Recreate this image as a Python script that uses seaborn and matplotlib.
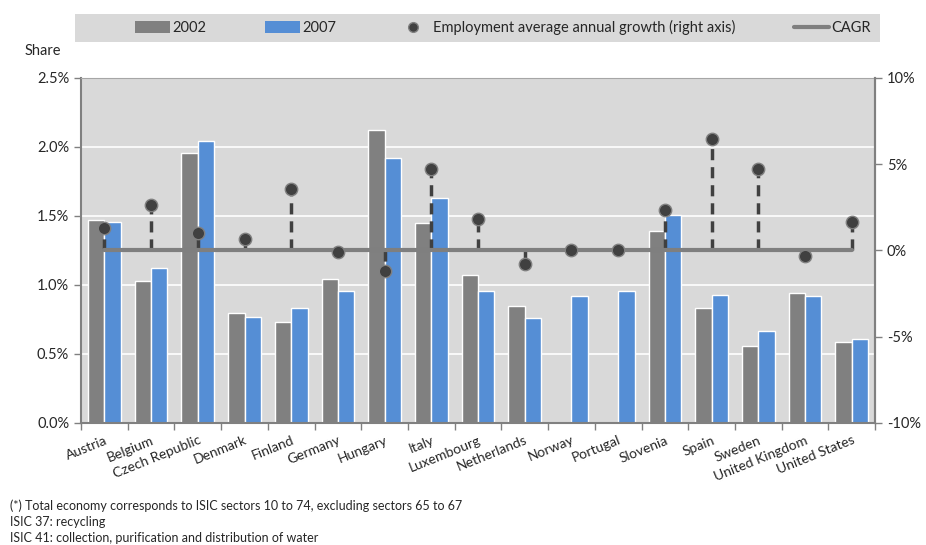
import numpy as np
import pandas as pd
import matplotlib
matplotlib.use("Agg")
import matplotlib.pyplot as plt
import seaborn as sns
from matplotlib.lines import Line2D
from matplotlib.patches import Patch, Rectangle
from matplotlib.ticker import FuncFormatter, MultipleLocator

countries = ["Austria", "Belgium", "Czech Republic", "Denmark", "Finland", "Germany",
             "Hungary", "Italy", "Luxembourg", "Netherlands", "Norway", "Portugal",
             "Slovenia", "Spain", "Sweden", "United Kingdom", "United States"]
share_2002 = [1.47, 1.03, 1.96, 0.80, 0.73, 1.04, 2.12, 1.45, 1.07, 0.85, np.nan, np.nan,
              1.39, 0.83, 0.56, 0.94, 0.59]
share_2007 = [1.46, 1.12, 2.04, 0.77, 0.83, 0.96, 1.92, 1.63, 0.96, 0.76, 0.92, 0.96,
              1.51, 0.93, 0.67, 0.92, 0.61]
growth = [1.3, 2.65, 1.0, 0.67, 3.55, -0.1, -1.2, 4.7, 1.85, -0.8, 0.0, 0.0,
          2.35, 6.45, 4.7, -0.3, 1.65]
cagr = [0.0] * len(countries)
footnotes = ["(*) Total economy corresponds to ISIC sectors 10 to 74, excluding sectors 65 to 67",
             "ISIC 37: recycling",
             "ISIC 41: collection, purification and distribution of water"]

sns.set_theme(style="white")
plt.rcParams['font.family'] = ['Lato', 'DejaVu Sans']

C02 = "#808080"
C07 = "#558ED5"
BG = "#D9D9D9"

df = pd.DataFrame({
    "country": countries * 2,
    "year": ["2002"] * len(countries) + ["2007"] * len(countries),
    "share": share_2002 + share_2007,
})

fig = plt.figure(figsize=(9.26, 5.45), dpi=100)
ax = fig.add_axes([0.0875, 0.2239, 0.8575, 0.633])
ax.set_facecolor(BG)

sns.barplot(data=df, x="country", y="share", hue="year", order=countries,
            hue_order=["2002", "2007"], palette=[C02, C07], width=0.7,
            saturation=1, ax=ax, legend=False, zorder=2)
ax.set_xlim(-0.5, len(countries) - 0.5)
ax.set_ylim(0, 2.5)
ax.yaxis.set_major_locator(MultipleLocator(0.5))
ax.yaxis.set_major_formatter(FuncFormatter(lambda v, p: f"{v:.1f}%"))
ax.grid(axis="y", color="white", linewidth=1.2, zorder=0)
ax.set_axisbelow(True)
ax.set_xlabel("")
ax.set_ylabel("")
for s in ["left", "bottom", "right"]:
    ax.spines[s].set_color("#808080")
    ax.spines[s].set_linewidth(1.5)
ax.spines["top"].set_color("#A6A6A6")
ax.spines["top"].set_linewidth(0.8)

ax.set_xticks(range(len(countries)))
ax.set_xticklabels(countries, rotation=22, ha="right", rotation_mode="anchor", fontsize=10)
ax.tick_params(axis="x", which="major", length=0, pad=8)
ax.set_xticks(np.arange(-0.5, len(countries), 1), minor=True)
ax.tick_params(axis="x", which="minor", length=5, color="#808080", width=1, direction="out", bottom=True)
ax.tick_params(axis="y", length=5, color="#808080", width=1, direction="out", left=True, labelsize=10.5)

ax2 = ax.twinx()
ax2.set_ylim(-10, 10)
ax2.yaxis.set_major_locator(MultipleLocator(5))
ax2.yaxis.set_major_formatter(FuncFormatter(lambda v, p: f"{v:.0f}%"))
ax2.tick_params(axis="y", length=5, color="#808080", width=1, direction="out", right=True, labelsize=10.5)
ax2.grid(False)
for s in ["left", "bottom", "top"]:
    ax2.spines[s].set_visible(False)
ax2.spines["right"].set_color("#808080")
ax2.spines["right"].set_linewidth(1.5)

xpos = np.arange(len(countries))
ax2.vlines(xpos, cagr, growth, colors="#404040", linestyles=(0, (3.2, 2.0)), linewidth=2.5, zorder=3)
sns.lineplot(x=xpos, y=cagr, ax=ax2, color="#7F7F7F", linewidth=3, zorder=4)
sns.scatterplot(x=xpos, y=growth, ax=ax2, s=80, color="#404040", edgecolor="#808080",
                linewidth=1, zorder=5)
ax2.set_xlim(-0.5, len(countries) - 0.5)

# legend band
fig.patches.append(Rectangle((0.081, 0.923), 0.869, 0.052, transform=fig.transFigure,
                             facecolor=BG, edgecolor="none", zorder=0))
handles = [Patch(facecolor=C02, edgecolor="none", label="2002"),
           Patch(facecolor=C07, edgecolor="none", label="2007"),
           Line2D([], [], marker="o", linestyle="none", markersize=7, markerfacecolor="#404040",
                  markeredgecolor="#808080", label="Employment average annual growth (right axis)"),
           Line2D([], [], color="#7F7F7F", linewidth=3, label="CAGR")]
fig.legend(handles=handles, loc="center", ncol=4, bbox_to_anchor=(0.543, 0.949),
           frameon=False, fontsize=10.5, handlelength=2.4, handleheight=0.9,
           columnspacing=4.0, handletextpad=0.2)

fig.text(0.027, 0.907, "Share", fontsize=10.5, va="center")
for i, t in enumerate(footnotes):
    fig.text(0.011, 0.072 - i * 0.030, t, fontsize=9, va="center")

fig.savefig("out.png", dpi=100)
